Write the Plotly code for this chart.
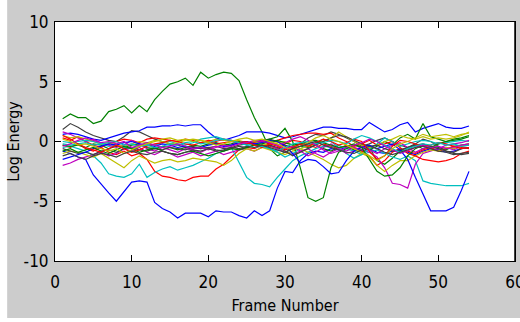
import plotly.graph_objects as go

frames = list(range(1, 55))

s01 = [-0.8,-1.0,-1.3,-1.5,-2.8,-3.6,-4.3,-5.0,-4.2,-3.4,-3.3,-3.4,-5.1,-5.6,-5.9,-6.4,-6.0,-6.0,-6.0,-6.3,-5.8,-5.9,-5.9,-6.2,-6.4,-5.8,-6.2,-5.8,-3.9,-2.5,-2.6,-1.6,-1.0,-0.8,-0.9,-0.6,-0.7,-0.5,-0.6,-0.8,-0.6,-0.9,-1.0,-0.8,-0.7,-0.9,-1.1,-0.8,-0.6,-0.7,-0.9,-0.8,-0.6,-0.5]
s02 = [1.9,2.3,2.0,2.0,1.5,1.7,2.5,2.7,3.0,2.4,3.0,2.5,3.5,4.2,4.8,5.0,5.3,4.7,5.8,5.3,5.6,5.8,5.7,5.1,3.5,2.0,0.8,-0.6,-1.2,-0.9,-0.6,-0.4,-0.5,-0.3,-0.6,-0.8,-0.5,-0.4,-0.7,-0.9,-0.5,-1.6,-1.9,-1.4,-0.8,-0.5,-0.3,-0.6,-0.4,-0.5,-0.7,-0.4,-0.3,-0.2]
s03 = [-0.3,-0.5,-0.2,-0.6,-0.8,-0.5,-0.9,-1.1,-0.8,-1.2,-1.0,-1.5,-2.5,-2.9,-3.0,-3.2,-3.3,-3.0,-2.9,-2.9,-2.3,-1.9,-1.3,-0.7,-0.5,-0.6,-0.3,-0.4,-0.6,-0.2,0.1,0.0,-0.3,-0.5,-0.2,-0.4,-0.6,-0.3,-0.5,-0.8,-1.2,-2.0,-1.6,-0.9,-0.6,-0.8,-1.0,-0.7,-0.5,-0.8,-0.6,-0.4,-0.5,-0.6]
s04 = [-0.5,-0.4,-0.6,-0.8,-1.2,-1.8,-2.7,-2.9,-3.0,-2.7,-1.9,-3.0,-2.6,-2.3,-2.1,-2.4,-2.2,-2.0,-1.7,-1.4,-1.0,-0.8,-0.5,-1.8,-3.0,-3.5,-3.6,-3.8,-3.0,-2.3,-1.6,-1.2,-0.9,-0.6,-0.4,-0.5,-0.3,-0.6,-0.8,-1.1,-0.9,-0.7,-1.0,-1.3,-1.5,-1.2,-1.6,-3.3,-3.5,-3.6,-3.7,-3.7,-3.7,-3.5]
s05 = [-2.0,-1.8,-1.5,-1.3,-1.1,-0.9,-1.2,-1.0,-0.6,-0.8,-0.5,-0.9,-1.1,-0.8,-1.0,-1.3,-1.1,-0.9,-1.2,-1.0,-0.8,-1.1,-0.9,-0.7,-0.6,-0.8,-0.5,-0.3,-0.6,-0.9,-1.1,-0.8,-0.6,-1.0,-1.3,-0.9,-0.6,-0.8,-0.5,-0.7,-0.9,-1.3,-2.2,-3.5,-3.6,-3.9,-1.9,-1.0,-0.8,-0.6,-0.5,-0.7,-0.4,-0.3]
s06 = [-1.0,-0.8,-0.9,-1.1,-1.3,-1.0,-1.4,-1.8,-2.2,-1.6,-1.2,-1.5,-1.8,-1.6,-1.5,-1.7,-1.6,-1.4,-1.5,-1.6,-1.7,-2.0,-1.6,-1.0,-0.6,-0.8,-0.5,-0.7,-0.9,-1.1,-0.8,-0.6,-0.9,-1.2,-1.5,-1.9,-2.2,-2.0,-1.4,-1.0,-1.3,-2.0,-2.5,-2.0,-1.6,-1.6,-1.2,-0.9,-0.7,-0.8,-0.5,-0.6,-0.4,-0.2]
s07 = [1.0,1.5,1.2,0.8,0.5,0.3,0.1,0.0,0.4,0.9,0.8,0.5,0.2,0.0,-0.2,-0.3,-0.5,-0.4,-0.6,-0.5,-0.4,-0.6,-0.5,-0.3,-0.2,0.0,0.1,0.2,0.0,-0.3,-0.5,-0.2,0.3,0.6,0.5,0.8,0.6,0.3,0.0,-0.4,-0.2,0.1,0.3,0.0,-0.3,-0.5,-0.2,0.2,0.0,-0.4,-0.8,-0.9,-0.6,-0.5]
s08 = [0.6,0.7,0.6,0.4,0.2,0.1,0.3,0.5,0.7,0.8,0.9,1.2,1.2,1.3,1.3,1.4,1.3,1.4,1.4,0.8,0.3,0.1,0.3,0.5,0.8,0.8,0.8,0.7,0.5,0.3,0.4,0.6,0.8,1.0,1.2,1.2,1.1,1.1,1.0,1.0,1.6,1.2,0.8,1.0,1.4,1.6,0.8,1.1,1.3,1.5,1.2,1.1,1.1,1.3]
s09 = [-0.3,-0.4,-0.3,-0.5,-0.2,-0.3,-0.6,-0.4,-0.5,-0.3,-0.2,-0.5,-0.6,-0.4,-0.5,-0.7,-0.5,-0.3,-0.4,-0.2,-0.1,-0.3,-0.2,0.0,-0.2,-0.1,0.0,0.2,0.4,1.1,0.0,-2.2,-4.7,-5.0,-4.7,-2.2,-0.9,-0.6,-0.3,-0.5,-0.7,-0.4,0.0,-0.3,0.3,0.6,0.2,1.5,0.4,0.2,0.0,0.2,0.3,0.5]
s10 = [0.3,0.1,0.4,0.0,-0.3,-0.5,-0.2,0.0,0.2,0.1,-0.1,0.2,0.3,0.2,0.1,0.0,0.2,0.1,-0.1,0.0,-0.2,-0.1,0.0,-0.1,-0.2,-0.1,0.0,-0.2,0.1,0.3,0.5,0.6,0.7,0.7,0.6,0.7,0.3,0.0,-0.4,-0.2,0.1,-0.3,-0.2,0.0,-0.5,-1.0,-1.2,-1.5,-1.6,-1.7,-1.6,-1.4,-1.0,-0.8]
s11 = [-0.2,-0.3,-0.2,-0.1,-0.3,-0.2,-0.4,-0.3,-0.5,-0.6,-0.4,-0.2,-0.3,-0.1,0.0,-0.2,-0.3,-0.1,0.2,0.3,0.4,0.2,0.0,-0.1,-0.3,-0.2,-0.4,-0.6,-0.9,-1.3,-1.0,-0.6,-0.3,-0.1,0.2,0.0,-0.5,-1.0,-1.4,-1.1,-0.6,-0.2,0.3,0.0,-0.4,-0.2,0.0,0.1,0.0,-0.2,-0.1,0.0,0.1,0.0]
s12 = [0.8,0.6,0.3,0.0,0.2,-0.1,-0.3,-0.5,-0.3,0.1,-0.2,-0.6,-0.8,-0.5,-0.7,-0.9,-0.6,-0.7,-0.9,-0.6,-0.4,-0.5,-0.3,-0.1,0.0,-0.2,0.1,0.0,-0.3,-0.6,-0.4,-0.8,-1.2,-0.9,-0.5,-0.2,-0.6,-1.0,-0.8,-0.4,-0.7,-1.0,-0.6,-0.3,-0.1,-0.5,-0.9,-0.6,-0.4,-0.6,-0.3,-0.2,-0.1,0.1]
s13 = [0.5,0.3,0.4,0.2,0.0,-0.2,-0.1,-0.3,-0.4,-0.2,0.0,-0.1,0.1,0.0,-0.2,-0.1,0.1,0.2,0.1,0.0,0.2,0.1,0.0,0.1,-0.1,0.0,-0.2,-0.3,-0.1,0.0,-0.3,-0.6,-0.4,-0.2,0.0,0.3,0.8,0.4,0.0,-0.3,-0.5,-0.3,0.0,0.2,0.5,0.3,0.2,0.4,0.2,0.3,0.2,0.3,0.5,0.8]
s14 = [-0.6,-0.8,-1.0,-0.9,-1.1,-0.8,-0.7,-0.9,-0.6,-0.5,-0.7,-0.8,-0.6,-0.7,-0.5,-0.6,-0.7,-0.5,-0.6,-0.5,-0.7,-0.8,-0.6,-0.4,-0.5,-0.3,-0.4,-0.3,-0.5,-0.8,-1.2,-0.9,-0.6,-0.3,0.0,0.3,0.5,0.4,0.1,-0.2,-0.4,-0.3,-0.6,-0.8,-0.7,-0.5,-0.3,-0.2,-0.4,-0.6,-0.8,-1.0,-1.1,-1.0]
s15 = [-1.5,-1.3,-1.1,-0.9,-0.6,-0.4,-0.2,-0.3,-0.1,0.0,-0.2,-0.3,-0.4,-0.2,-0.3,-0.5,-0.4,-0.6,-0.5,-0.3,-0.2,-0.4,-0.3,-0.1,0.0,-0.2,-0.1,0.1,0.0,-0.4,-1.0,-1.8,-1.5,-1.6,-2.1,-2.7,-2.6,-1.6,-0.8,-0.5,-0.3,-0.6,-0.4,-0.2,-0.7,-1.5,-3.0,-4.4,-5.8,-5.8,-5.8,-5.5,-4.1,-2.5]
s16 = [-0.8,-0.6,-0.9,-0.7,-0.5,-0.8,-1.0,-0.7,-0.4,-0.6,-0.9,-0.7,-0.5,-0.8,-1.0,-1.1,-0.9,-0.8,-1.0,-1.2,-1.0,-0.8,-0.6,-0.7,-0.5,-0.3,-0.2,0.0,0.1,-0.1,-0.3,-0.2,0.0,0.1,-0.1,-0.3,-0.5,-0.4,-0.2,-0.5,-1.5,-2.5,-2.9,-2.8,-2.2,-1.2,-0.6,-0.3,-0.5,-0.2,0.0,0.1,0.2,0.4]
s17 = [0.5,0.2,-0.2,-0.5,-0.7,-0.9,-0.6,-0.3,-0.6,-0.9,-0.7,-0.4,-0.2,-0.1,0.1,0.0,-0.2,-0.3,-0.1,0.1,0.0,0.2,0.1,-0.1,0.0,-0.3,-0.5,-0.2,-0.4,-0.7,-0.5,-0.2,-0.4,-0.1,0.2,0.0,-0.3,-0.1,0.2,0.0,-0.8,-1.5,-1.2,-0.4,0.1,0.0,-0.2,-0.4,-0.3,-0.1,-0.2,-0.4,-0.6,-0.5]
s18 = [0.0,-0.1,0.0,0.1,0.0,-0.2,-0.1,0.0,-0.3,-0.2,-0.4,-0.3,-0.5,-0.4,-0.2,-0.3,-0.1,0.0,-0.2,-0.1,0.1,0.2,0.1,-0.1,-0.3,-0.5,-0.4,-0.6,-0.8,-0.5,-0.2,-0.1,0.0,-0.2,-0.1,0.1,0.0,-0.2,0.2,0.5,0.3,0.0,-0.3,-0.6,-0.9,-0.6,-0.4,-0.2,-0.3,-0.1,-0.3,-0.2,-0.4,-0.3]
s19 = [-0.4,-0.2,0.1,0.3,0.1,-0.1,0.0,-0.2,0.0,-0.5,-0.3,-0.1,-0.3,-0.5,-0.4,-0.2,-0.4,-0.6,-0.5,-0.7,-0.5,-0.3,-0.4,-0.2,-0.1,0.1,0.0,-0.1,-0.3,-0.1,0.2,0.4,0.1,-0.3,-0.7,-1.0,-0.8,-0.5,-0.3,-0.1,0.2,0.0,-0.4,-0.7,-1.0,-0.8,-0.5,-0.3,-0.5,-0.4,-0.6,-0.5,-0.3,-0.2]
s20 = [0.2,0.0,-0.3,-0.2,-0.4,-0.6,-0.8,-0.6,-1.0,-0.7,-0.4,-0.2,0.0,0.2,0.3,0.1,0.2,0.0,0.1,-0.1,-0.3,-0.2,0.0,0.2,0.3,0.1,0.2,0.0,-0.2,-0.5,-0.7,-0.4,-0.1,0.3,0.5,0.2,0.0,-0.3,-0.6,-0.9,-1.2,-1.6,-1.2,-0.6,-0.2,0.0,0.3,0.6,0.4,0.5,0.6,0.4,0.6,0.7]
s21 = [-1.2,-1.0,-1.3,-1.5,-1.2,-1.0,-1.1,-1.3,-1.0,-0.8,-1.0,-1.1,-0.9,-0.8,-1.0,-1.1,-0.9,-0.7,-0.8,-0.6,-0.8,-0.7,-0.5,-0.6,-0.4,-0.5,-0.3,-0.5,-0.7,-0.9,-0.6,-0.4,-0.2,0.0,-0.3,-0.5,-0.7,-0.9,-1.0,-0.7,-0.4,-0.6,-0.9,-1.1,-0.9,-0.7,-0.5,-0.4,-0.6,-0.8,-0.9,-1.1,-1.0,-0.9]

series = [s01, s02, s03, s04, s05, s06, s07, s08, s09, s10, s11,
          s12, s13, s14, s15, s16, s17, s18, s19, s20, s21]

colororder = ["#0000ff", "#008000", "#ff0000", "#00bfbf",
              "#bf00bf", "#bfbf00", "#404040"]

x_ticks = [0, 10, 20, 30, 40, 50, 60]
x_labels = ["0", "10", "20", "30", "40", "50", "60"]
y_ticks = [-10, -5, 0, 5, 10]
y_labels = ["-10", "-5", "0", "5", "10"]

fig = go.Figure()
for i, s in enumerate(series):
    fig.add_trace(go.Scatter(x=frames, y=s, mode="lines",
                             line=dict(color=colororder[i % 7], width=1.2),
                             showlegend=False, hoverinfo="skip"))

FONT = "DejaVu Sans Condensed, Liberation Sans Narrow, Arial Narrow, Liberation Sans, Arial, sans-serif"

axis_common = dict(showgrid=False, zeroline=False, showline=True,
                   linecolor="black", linewidth=1, mirror="ticks",
                   ticks="inside", ticklen=6, tickcolor="black",
                   automargin=False, ticklabeloverflow="allow",
                   tickfont=dict(family=FONT, size=17, color="black"))

fig.update_xaxes(range=[0, 60], tickvals=x_ticks, ticktext=x_labels, **axis_common,
                 ticklabelstandoff=6,
                 title=dict(text="Frame Number", font=dict(family=FONT, size=16, color="black"),
                            standoff=8))
fig.update_yaxes(range=[-10, 10], tickvals=y_ticks, ticktext=y_labels, **axis_common,
                 ticklabelstandoff=2,
                 title=dict(text="Log Energy", font=dict(family=FONT, size=16, color="black"),
                            standoff=0))

fig.update_layout(
    width=520, height=322,
    margin=dict(l=55, r=5, t=22, b=61),
    paper_bgcolor="white",
    plot_bgcolor="white",
    yaxis2=dict(overlaying="y", side="right", anchor="x", range=[-10, 10],
                tickvals=y_ticks, showticklabels=False, showgrid=False,
                zeroline=False, showline=True, linecolor="black", linewidth=1,
                ticks="inside", ticklen=6, tickcolor="black", automargin=False),
    shapes=[
        dict(type="rect", xref="paper", yref="paper", x0=-0.104, x1=1.02,
             y0=-0.238, y1=1.1, fillcolor="#cccccc", line=dict(width=0), layer="below"),
        dict(type="rect", xref="paper", yref="paper", x0=0, x1=1,
             y0=0, y1=1, fillcolor="white", line=dict(width=0), layer="below"),
        dict(type="line", xref="paper", yref="paper", x0=1, x1=1,
             y0=0, y1=1, line=dict(width=1.5, color="black"), layer="above"),
    ],
)
# invisible trace so the right-hand axis is drawn
fig.add_trace(go.Scatter(x=[None], y=[None], yaxis="y2", showlegend=False,
                         hoverinfo="skip"))

fig.write_html("out.html", config={"displayModeBar": False},
               post_script="document.body.style.margin='0';document.body.style.overflow='hidden';")
